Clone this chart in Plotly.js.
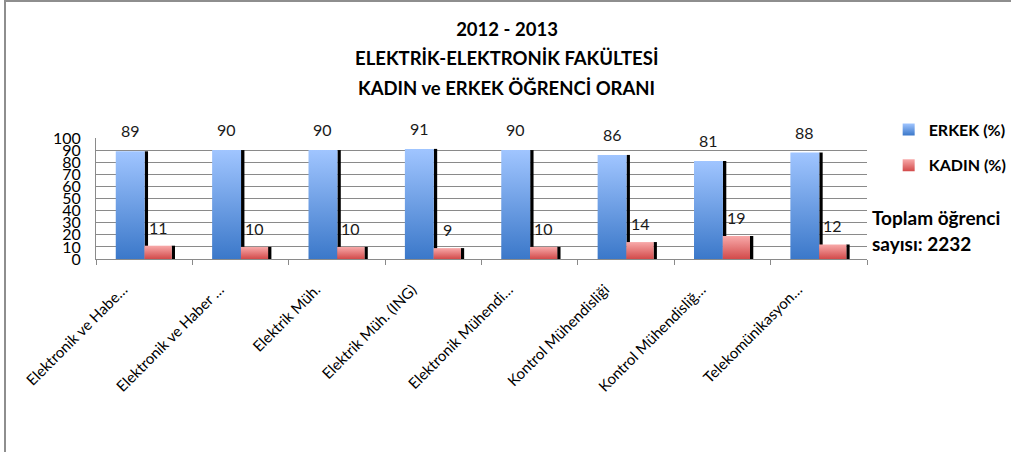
<!DOCTYPE html>
<html><head><meta charset="utf-8">
<script src="https://cdn.plot.ly/plotly-3.0.1.min.js"></script>
<style>
html,body{margin:0;padding:0;background:#fff;}
#chart{width:1011px;height:452px;}
#frame{position:absolute;left:4px;top:0;width:1011px;height:452px;border-left:2px solid #8e8e8e;border-top:2px solid #8e8e8e;pointer-events:none;box-sizing:border-box;}
</style>
</head><body>
<div id="chart"></div><div id="frame"></div>
<script>
const categories = [
  'Elektronik ve Habe…',
  'Elektronik ve Haber …',
  'Elektrik Müh.',
  'Elektrik Müh. (ING)',
  'Elektronik Mühendi…',
  'Kontrol Mühendisliği',
  'Kontrol Mühendisliğ…',
  'Telekomünikasyon…'
];
const erkek = [89, 90, 90, 91, 90, 86, 81, 88];
const kadin = [11, 10, 10, 9, 10, 14, 19, 12];
const seriesNames = ['ERKEK (%)', 'KADIN (%)'];
const yTicks = [0, 10, 20, 30, 40, 50, 60, 70, 80, 90, 100];
const titleLines = ['2012 - 2013', 'ELEKTRİK-ELEKTRONİK FAKÜLTESİ', 'KADIN ve ERKEK ÖĞRENCİ ORANI'];
const noteLines = ['Toplam öğrenci', 'sayısı: 2232'];

const FONT = 'Lato, "Open Sans", sans-serif';
const grid = '#8a8a8a';

const traces = [
  {type:'bar', x:categories, y:erkek, offset:0.005, width:0.035, marker:{color:'#000'}, showlegend:false, hoverinfo:'skip'},
  {type:'bar', x:categories, y:erkek, name:'<b>'+seriesNames[0]+'</b>', offset:-0.295, width:0.30, marker:{color:'#6f9fe6'}, legendgroup:'a'},
  {type:'bar', x:categories, y:kadin, offset:0.285, width:0.035, marker:{color:'#000'}, showlegend:false, hoverinfo:'skip'},
  {type:'bar', x:categories, y:kadin, name:'<b>'+seriesNames[1]+'</b>', offset:0.003, width:0.283, marker:{color:'#e67070'}, legendgroup:'b'}
];

const annotations = [];
erkek.forEach((v,i)=>annotations.push({x:categories[i], y:v, xref:'x', yref:'y', text:String(v), showarrow:false, xshift:-14, yshift:9, yanchor:'bottom', font:{family:FONT, size:16, color:'#1a1a1a'}}));
kadin.forEach((v,i)=>annotations.push({x:categories[i], y:v, xref:'x', yref:'y', text:String(v), showarrow:false, xshift:14, yshift:7, yanchor:'bottom', font:{family:FONT, size:16, color:'#1a1a1a'}}));
annotations.push({xref:'paper', yref:'paper', x:0.533, y:1.661, xanchor:'center', yanchor:'middle', text:'<b>'+titleLines[1]+'</b>', showarrow:false, font:{family:FONT, size:18.5, color:'#000'}});
annotations.push({xref:'paper', yref:'paper', x:0.533, y:1.413, xanchor:'center', yanchor:'middle', text:'<b>'+titleLines[2]+'</b>', showarrow:false, font:{family:FONT, size:18.5, color:'#000'}});
annotations.push({xref:'paper', yref:'paper', x:1.004, y:0.347, xanchor:'left', yanchor:'middle', text:'<b>'+noteLines[0]+'</b>', showarrow:false, font:{family:FONT, size:19, color:'#000'}});
annotations.push({xref:'paper', yref:'paper', x:1.004, y:0.124, xanchor:'left', yanchor:'middle', text:'<b>'+noteLines[1]+'</b>', showarrow:false, font:{family:FONT, size:19, color:'#000'}});

const layout = {
  width:1011, height:452,
  margin:{l:96, r:144, t:138, b:193, pad:0},
  paper_bgcolor:'#fff', plot_bgcolor:'#fff',
  barmode:'overlay',
  font:{family:FONT, color:'#000'},
  title:{text:'<b>'+titleLines[0]+'</b>', x:0.5015, xanchor:'center', y:0.935, yanchor:'middle', font:{family:FONT, size:18.5, color:'#000'}},
  xaxis:{type:'category', showline:true, linecolor:grid, linewidth:1, ticks:'outside', tickson:'boundaries', ticklen:5, tickcolor:grid,
         tickangle:-45, ticklabelshift:-21, ticklabelstandoff:15, tickfont:{family:FONT, size:15, color:'#000'}, showgrid:false, automargin:false, fixedrange:true},
  yaxis:{range:[0,100], tickvals:yTicks, showgrid:true, gridcolor:grid, gridwidth:1, zeroline:false, showline:true, linecolor:grid, linewidth:1,
         ticks:'', ticklabelstandoff:11, tickfont:{family:FONT, size:16, color:'#000'}, automargin:false, fixedrange:true},
  showlegend:true,
  legend:{xref:'container', yref:'container', x:0.879, xanchor:'left', y:0.751, yanchor:'top', traceorder:'grouped', tracegroupgap:12, font:{family:FONT, size:16, color:'#000'}, bgcolor:'rgba(0,0,0,0)'},
  annotations:annotations
};

function addGradients(gd){
  const svg = gd.querySelector('.main-svg');
  const ns = 'http://www.w3.org/2000/svg';
  let defs = svg.querySelector('defs');
  if(!defs){ defs = document.createElementNS(ns,'defs'); svg.insertBefore(defs, svg.firstChild); }
  function grad(id, top, bottom){
    const g = document.createElementNS(ns,'linearGradient');
    g.setAttribute('id', id); g.setAttribute('x1','0'); g.setAttribute('y1','0'); g.setAttribute('x2','0'); g.setAttribute('y2','1');
    [[0,top],[1,bottom]].forEach(([o,c])=>{const s=document.createElementNS(ns,'stop'); s.setAttribute('offset',o); s.setAttribute('stop-color',c); g.appendChild(s);});
    defs.appendChild(g);
  }
  grad('gBlue','#a0c5ff','#3b78c9');
  grad('gRed','#f8aaaa','#d24a4a');
  const bt = gd.querySelectorAll('.barlayer .trace');
  if(bt[1]) bt[1].querySelectorAll('path').forEach(p=>p.style.fill='url(#gBlue)');
  if(bt[3]) bt[3].querySelectorAll('path').forEach(p=>p.style.fill='url(#gRed)');
  const lt = gd.querySelectorAll('.legend .traces');
  if(lt[0]) lt[0].querySelectorAll('.legendpoints path').forEach(p=>p.style.fill='url(#gBlue)');
  if(lt[1]) lt[1].querySelectorAll('.legendpoints path').forEach(p=>p.style.fill='url(#gRed)');
}

Plotly.newPlot('chart', traces, layout, {displayModeBar:false, staticPlot:true}).then(addGradients);
</script>
</body></html>
